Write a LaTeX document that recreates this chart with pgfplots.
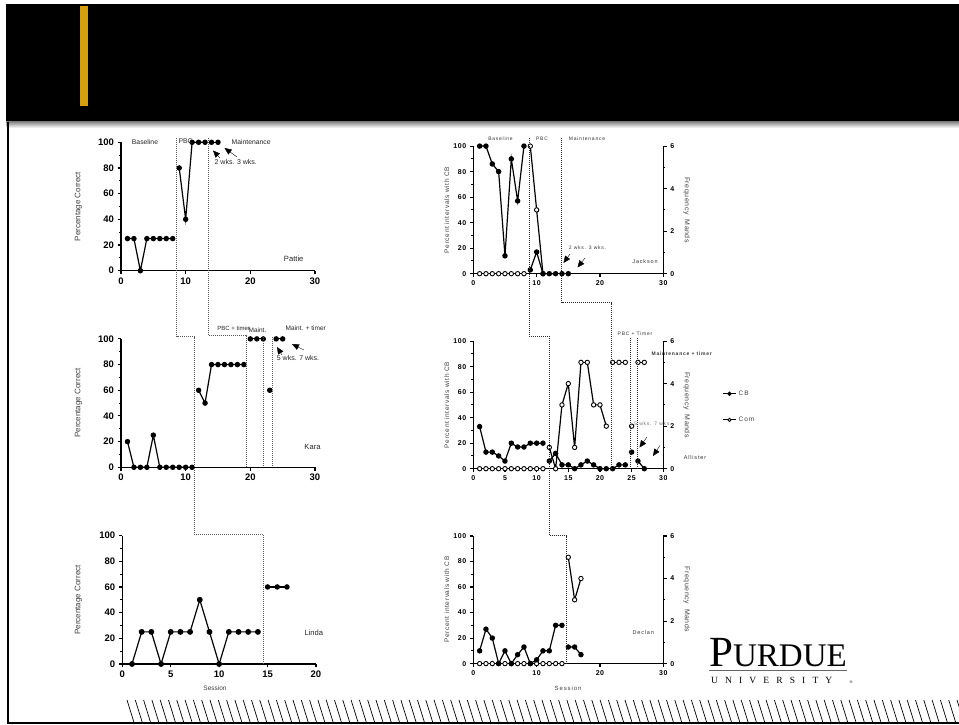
\documentclass[border=0pt]{standalone}
\usepackage{pgfplots}
\pgfplotsset{compat=1.18}
\usepackage{fontspec}
\usetikzlibrary{arrows.meta}
\setmainfont{Liberation Sans}
\newfontfamily\spf[LetterSpace=15]{Liberation Sans}
\newfontfamily\spt[LetterSpace=8]{Liberation Sans}
\newfontfamily\lsf[LetterSpace=10]{Liberation Sans}
\newfontfamily\pserif{Liberation Serif}
\newfontfamily\puni[LetterSpace=75]{Liberation Serif}
\newcommand\fs[1]{\fontsize{#1}{#1}\selectfont}
\definecolor{gold}{RGB}{212,160,16}

\pgfplotsset{
  base/.style={scale only axis, clip=false, enlargelimits=false, xmin=0, ymin=0,
    anchor=south west,
    axis line style={line width=1.4pt,-},
    tick align=outside, major tick length=3.5pt, minor tick length=2pt,
    every tick/.append style={line width=1.1pt, black},
    /pgf/number format/assume math mode=true},
  leftp/.style={base, width=194pt, height=128.4pt, xmax=30, ymax=100,
    axis x line*=bottom, axis y line*=left,
    xtick={0,10,20,30}, ytick={0,20,...,100}, minor ytick={10,30,50,70,90},
    ticklabel style={font=\bfseries\fs{9.5}}},
  rcom/.style={base, width=190pt, height=127.6pt, xmax=30, ymax=6,
    axis x line*=bottom, axis y line*=right,
    xtick={0,10,20,30}, ytick={0,2,4,6}, minor ytick={1,3,5},
    ticklabel style={font=\spt\bfseries\fs{7}}},
  rcb/.style={base, width=190pt, height=127.6pt, xmax=30, ymax=100,
    axis x line=none, axis y line*=left,
    ytick={0,20,...,100}, minor ytick={10,30,50,70,90},
    ticklabel style={font=\spt\bfseries\fs{7}}},
  dat/.style={black, line width=1.2pt, mark=*, mark size=2.1pt, mark options={solid, fill=black}},
  opn/.style={black, line width=1.2pt, mark=*, mark size=2.2pt, mark options={solid, fill=white, line width=0.9pt}},
}

\begin{document}
\begin{tikzpicture}
\begin{scope}[x=1pt,y=1pt]
\useasboundingbox (0,0) rectangle (959,725);
\fill[white] (0,0) rectangle (959,725);
% header
\fill[black] (6,603) rectangle (959,721);
\fill[gold] (80,619) rectangle (88,719);
\shade[top color=black!45, bottom color=white] (6,603) rectangle (959,597);
% frame
\draw[line width=1.3pt] (8,603) -- (8,2) -- (959,2);
% hatch
\foreach \x in {127,135.3,...,960} \draw[line width=0.7pt] (\x,25) -- (\x+7,2.5);
% logo
\node[anchor=base west, inner sep=0pt] at (709,58) {\pserif\fs{43}P\fs{33}URDUE};
\draw[line width=1.3pt, black!60] (709,54.5) -- (847,54.5);
\node[anchor=base west, inner sep=0pt] at (711,41.5) {\puni\fs{9.5}UNIVERSITY};
\node[anchor=base west, inner sep=0pt] at (849.5,41.5) {\pserif\fs{4}\textregistered};
\end{scope}

% ---------------- Pattie
\begin{axis}[leftp, at={(121pt,454.3pt)}]
\addplot[dat] coordinates {(1,25)(2,25)(3,0)(4,25)(5,25)(6,25)(7,25)(8,25)};
\addplot[dat] coordinates {(9,80)(10,40)(11,100)(12,100)(13,100)};
\addplot[dat] coordinates {(14,100)(15,100)};
\end{axis}
% ---------------- Kara
\begin{axis}[leftp, at={(121pt,257.7pt)}]
\addplot[dat] coordinates {(1,20)(2,0)(3,0)(4,0)(5,25)(6,0)(7,0)(8,0)(9,0)(10,0)(11,0)};
\addplot[dat] coordinates {(12,60)(13,50)(14,80)(15,80)(16,80)(17,80)(18,80)(19,80)};
\addplot[dat] coordinates {(20,100)(21,100)(22,100)};
\addplot[dat] coordinates {(23,60)};
\addplot[dat] coordinates {(24,100)(25,100)};
\end{axis}
% ---------------- Linda
\begin{axis}[leftp, width=193.7pt, xmax=20, xtick={0,5,10,15,20}, at={(122.3pt,61pt)}]
\addplot[dat, mark size=2.3pt] coordinates {(1,0)(2,25)(3,25)(4,0)(5,25)(6,25)(7,25)(8,50)(9,25)(10,0)(11,25)(12,25)(13,25)(14,25)};
\addplot[dat] coordinates {(15,60)(16,60)(17,60)};
\end{axis}

% ---------------- Jackson
\begin{axis}[rcom, at={(473.3pt,451.3pt)}]
\addplot[opn] coordinates {(1,0)(2,0)(3,0)(4,0)(5,0)(6,0)(7,0)(8,0)};
\addplot[opn] coordinates {(9,6)(10,3)(11,0)};
\end{axis}
\begin{axis}[rcb, at={(473.3pt,451.3pt)}]
\addplot[dat] coordinates {(1,100)(2,100)(3,86)(4,80)(5,14)(6,90)(7,57)(8,100)};
\addplot[dat] coordinates {(9,3)(10,17)(11,0)(12,0)(13,0)};
\addplot[dat] coordinates {(14,0)(15,0)};
\end{axis}

% ---------------- Allister
\begin{axis}[rcom, xtick={0,5,...,30}, at={(473.3pt,256.3pt)}]
\addplot[opn] coordinates {(1,0)(2,0)(3,0)(4,0)(5,0)(6,0)(7,0)(8,0)(9,0)(10,0)(11,0)};
\addplot[opn] coordinates {(12,1)(13,0)(14,3)(15,4)(16,1)(17,5)(18,5)(19,3)(20,3)(21,2)};
\addplot[opn] coordinates {(22,5)(23,5)(24,5)};
\addplot[opn] coordinates {(25,2)};
\addplot[opn] coordinates {(26,5)(27,5)};
\end{axis}
\begin{axis}[rcb, at={(473.3pt,256.3pt)},
  legend image code/.code={\draw[mark repeat=2,mark phase=2,#1] plot coordinates {(0pt,0pt) (6.5pt,0pt) (13pt,0pt)};},
  legend style={draw=none, fill=none, at={(1.31,0.628)}, anchor=north west,
    font=\spf\fs{6.5}, text=black!75, row sep=16pt, inner sep=0pt, nodes={inner sep=2pt}},
  legend cell align=left]
\addlegendimage{dat, mark size=1.6pt}
\addlegendentry{CB}
\addlegendimage{opn, mark size=1.6pt}
\addlegendentry{Com}
\addplot[dat] coordinates {(1,33)(2,13)(3,13)(4,10)(5,6)(6,20)(7,17)(8,17)(9,20)(10,20)(11,20)};
\addplot[dat] coordinates {(12,6)(13,12)(14,3)(15,3)(16,0)(17,3)(18,6)(19,3)(20,0)(21,0)};
\addplot[dat] coordinates {(22,0)(23,3)(24,3)};
\addplot[dat] coordinates {(25,13)};
\addplot[dat] coordinates {(26,6)(27,0)};
\end{axis}

% ---------------- Declan
\begin{axis}[rcom, at={(473.3pt,61.4pt)}]
\addplot[opn] coordinates {(1,0)(2,0)(3,0)(4,0)(5,0)(6,0)(7,0)(8,0)(9,0)(10,0)(11,0)(12,0)(13,0)(14,0)};
\addplot[opn] coordinates {(15,5)(16,3)(17,4)};
\end{axis}
\begin{axis}[rcb, at={(473.3pt,61.4pt)}]
\addplot[dat] coordinates {(1,10)(2,27)(3,20)(4,0)(5,10)(6,0)(7,7)(8,13)(9,0)(10,3)(11,10)(12,10)(13,30)(14,30)};
\addplot[dat] coordinates {(15,13)(16,13)(17,7)};
\end{axis}

\begin{scope}[x=1pt,y=1pt]
% phase change lines
\tikzset{ph/.style={black!65, line width=0.7pt, dash pattern=on 0.9pt off 1.1pt}}
\draw[ph] (176.7,587) -- (176.7,388.3) -- (194.3,388.3) -- (194.3,190.7) -- (263.3,190.7) -- (263.3,61);
\draw[ph] (208.3,587) -- (208.3,389.3) -- (246.7,389.3) -- (246.7,257.7);
\draw[ph] (263.3,387.5) -- (263.3,257.7);
\draw[ph] (272.5,387.5) -- (272.5,257.7);
\draw[ph, black!85, line width=0.9pt] (529.3,587) -- (529.3,389) -- (549,389) -- (549,189.3) -- (566,189.3) -- (566,61.4);
\draw[ph, black!85, line width=0.9pt] (561.5,587) -- (561.5,422.3) -- (611,422.3) -- (611,256.3);
\draw[ph, black!85, line width=0.9pt] (630.7,387) -- (630.7,256.3);
\draw[ph, black!85, line width=0.9pt] (637.3,387) -- (637.3,256.3);

% axis titles
\node[rotate=90, font=\fs{8}, text=black!75] at (78.5,518.5) {Percentage Correct};
\node[rotate=90, font=\fs{8}, text=black!75] at (78.5,322) {Percentage Correct};
\node[rotate=90, font=\fs{8}, text=black!75] at (78.5,125) {Percentage Correct};
\node[font=\fs{6.5}, text=black!75] at (215,37) {Session};
\foreach \yc in {515,320,125.5} {
  \node[rotate=90, font=\lsf\fs{6.5}, text=black!75] at (446.7,\yc) {Percent intervals with CB};
  \node[rotate=-90, font=\spt\fs{7}, text=black!75] at (686.7,\yc) {Frequency\hspace{5pt}Mands};
}
\node[font=\spf\fs{6}, text=black!75] at (568,37) {Session};

% left annotations
\tikzset{lt/.style={font=\fs{6.8}, text=black!85, inner sep=0pt}}
\node[lt] at (145,583.3) {Baseline};
\node[lt, anchor=west] at (178.3,583.5) {PBC};
\node[lt] at (251.2,583.3) {Maintenance};
\node[lt, font=\fs{7}] at (235.8,563.3) {2 wks. 3 wks.};
\node[lt, font=\fs{7.6}] at (293.7,466.7) {Pattie};
\node[lt, font=\fs{6}] at (233.7,396.7) {PBC + timer};
\node[lt, font=\fs{6.5}] at (257.5,394.5) {Maint.};
\node[lt, font=\fs{6.5}] at (305.8,396.7) {Maint. + timer};
\node[lt, font=\fs{7}] at (298,366.7) {5 wks. 7 wks.};
\node[lt, font=\fs{7.6}] at (312.5,278.3) {Kara};
\node[lt, font=\fs{7.6}] at (313.8,92.7) {Linda};
% right annotations
\tikzset{rt/.style={font=\spf\fs{5}, text=black!80, inner sep=0pt}}
\node[rt] at (500.5,586.7) {Baseline};
\node[rt] at (542,586.7) {PBC};
\node[rt] at (587,586.7) {Maintenance};
\node[rt] at (587.5,477.7) {2 wks. 3 wks.};
\node[rt, font=\spf\fs{5.5}] at (645,463.3) {Jackson};
\node[rt] at (635,391) {PBC + Timer};
\node[rt, font=\spf\bfseries\fs{5}] at (681.7,371.7) {Maintenance + timer};
\node[rt, text=black!55] at (653,301.7) {5 wks. 7 wks.};
\node[rt, font=\spf\fs{5.5}] at (695,267.3) {Allister};
\node[rt, font=\spf\fs{5.5}] at (643.3,92.3) {Declan};
% arrows
\tikzset{ar/.style={line width=0.4pt, -{Triangle[length=7pt,width=6pt]}}}
\draw[ar] (220,567) -- (213,574.5);
\draw[ar] (237,568) -- (224.5,577);
\draw[ar] (282,370) -- (277,378);
\draw[ar] (304,375) -- (292,381);
\draw[ar] (570,471) -- (563.5,462);
\draw[ar] (585,467) -- (577.5,457.5);
\draw[ar] (647,288) -- (639.5,277.5);
\draw[ar] (660,279.5) -- (653,269);
\end{scope}
\end{tikzpicture}
\end{document}
